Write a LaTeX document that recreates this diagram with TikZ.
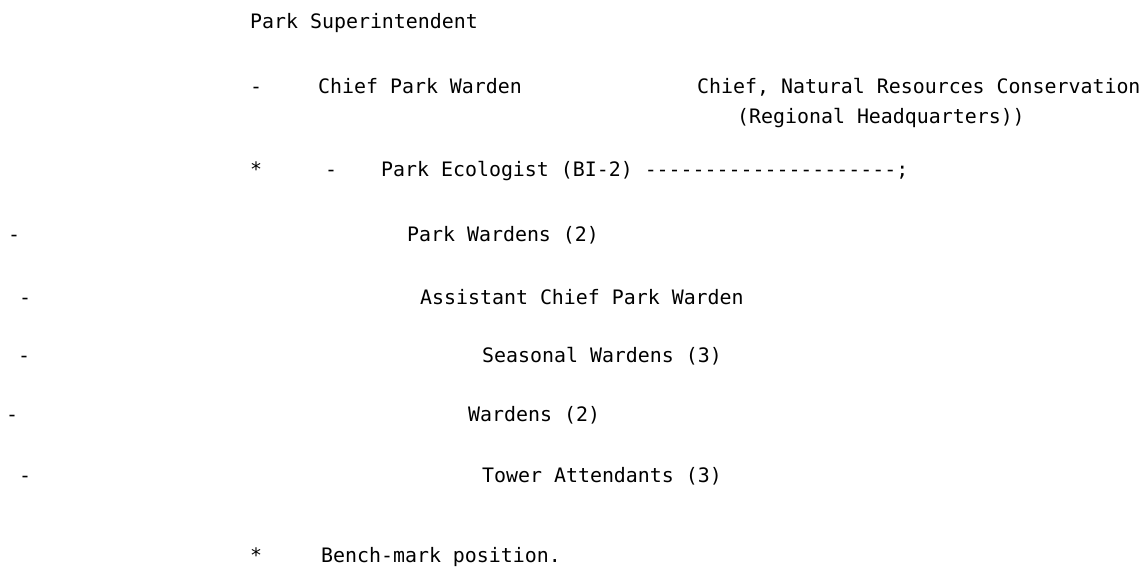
\documentclass[tikz,border=0pt]{standalone}
\usepackage{fontspec}
\setmonofont{DejaVu Sans Mono}
\usetikzlibrary{positioning}
\tikzstyle{line}=[font=\ttfamily\fontsize{19.9pt}{24pt}\selectfont, anchor=base west, inner sep=0pt]
\tikzstyle{sign}=[line]

\begin{document}
\begin{tikzpicture}[x=1pt,y=-1pt]
\useasboundingbox [fill=white] (0,0) rectangle (1142,578);

\node (super) [line] at (250,29) {Park Superintendent};

\node (dashchief) [sign] at (250,93) {-};
\node (chiefwarden) [line] at (318,93) {Chief Park Warden};
\node (chiefnrc) [line] at (697,93) {Chief, Natural Resources Conservation};
\node (regional) [line] at (737,123) {(Regional Headquarters))};

\node (stareco) [sign] at (250,176) {*};
\node (dasheco) [sign] at (325,176) {-};
\node (ecologist) [line] at (381,176) {Park Ecologist (BI-2) ---------------------;};

\node (dashpw) [sign] at (8,241) {-};
\node (parkwardens) [line] at (407,241) {Park Wardens (2)};

\node (dashacpw) [sign] at (19,304) {-};
\node (assistant) [line] at (420,304) {Assistant Chief Park Warden};

\node (dashseas) [sign] at (18,362) {-};
\node (seasonal) [line] at (482,362) {Seasonal Wardens (3)};

\node (dashward) [sign] at (6,421) {-};
\node (wardens) [line] at (468,421) {Wardens (2)};

\node (dashtower) [sign] at (19,482) {-};
\node (tower) [line] at (482,482) {Tower Attendants (3)};

\node (starbench) [sign] at (250,562) {*};
\node (bench) [line] at (321,562) {Bench-mark position.};
\end{tikzpicture}
\end{document}
